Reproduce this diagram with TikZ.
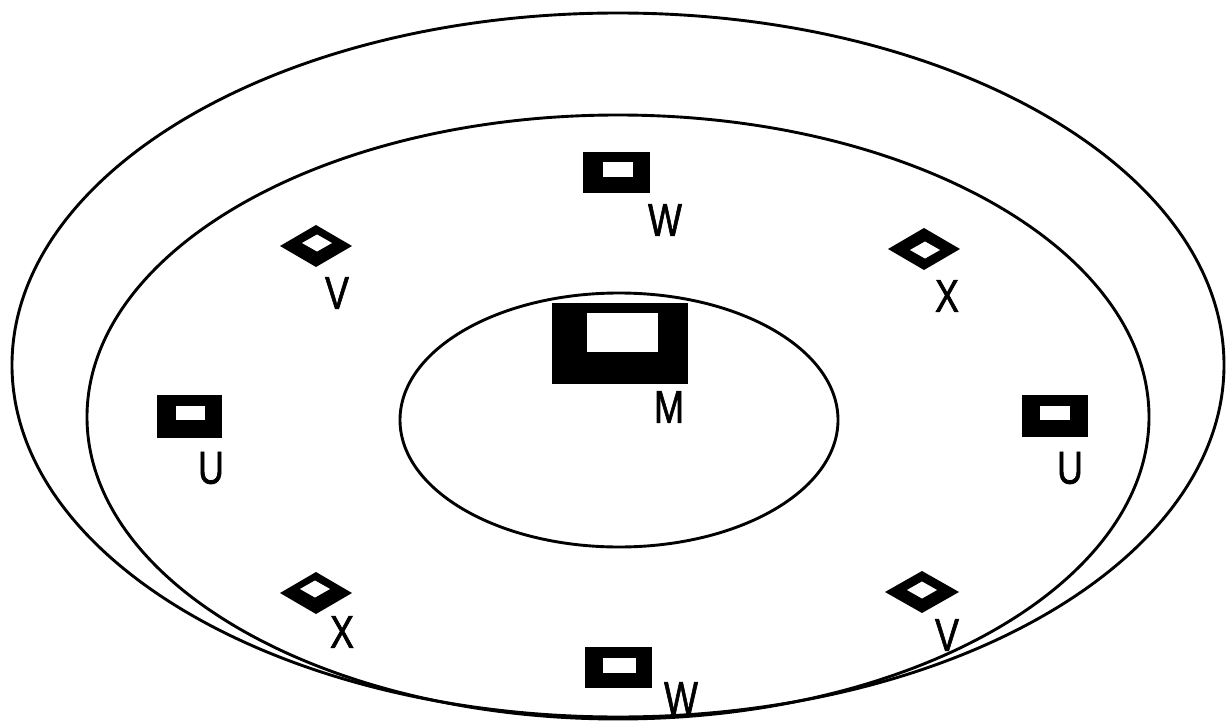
\documentclass[tikz,border=0pt]{standalone}
\usepackage{fontspec}
\setmainfont{Liberation Sans}
\newfontfamily\lblfont[FakeBold=1.6]{Liberation Sans}
\tikzset{
  ring/.style={draw=black, line width=2.9pt},
  blk/.style={fill=black},
  hole/.style={fill=white},
  lbl/.style={inner sep=0pt, font=\lblfont\fontsize{46}{46}\selectfont, xscale=0.78, transform shape}
}
\newcommand{\mybox}[8]{%
  \fill[blk] (#1,#2) rectangle (#3,#4);
  \fill[hole] (#5,#6) rectangle (#7,#8);}
\newcommand{\mydiam}[7]{% cx cy hw hh icx icy ihw
  \fill[blk] (#1-#3,#2) -- (#1,#2-#4) -- (#1+#3,#2) -- (#1,#2+#4) -- cycle;
  \fill[hole] (#5-#7,#6) -- (#5,#6-8.5) -- (#5+#7,#6) -- (#5,#6+8.5) -- cycle;}
\begin{document}
\begin{tikzpicture}[x=1pt,y=-1pt]
\useasboundingbox (0,0) rectangle (1226,722);
\fill[white] (0,0) rectangle (1226,722);
% rings
\draw[ring] (618,365) ellipse [x radius=606, y radius=352];
\draw[ring] (618,417) ellipse [x radius=531, y radius=302];
\draw[ring] (619,420) ellipse [x radius=219, y radius=127];
% boxes
\mybox{583}{152}{650}{193}{603}{162}{633}{177}
\mybox{552}{303}{688}{384}{587}{313}{658}{352}
\mybox{157}{395}{222}{438}{176}{406}{205}{420}
\mybox{1022}{395}{1088}{437}{1040}{406}{1070}{420}
\mybox{585}{647}{652}{688}{603}{658}{636}{673}
% diamonds
\mydiam{316}{246}{36}{21}{317}{243}{15}
\mydiam{924}{249}{36}{21}{925}{250}{15}
\mydiam{316}{593}{36}{21}{315}{589}{15}
\mydiam{922}{592}{37}{21}{922}{590}{15}
% labels
\node[lbl] (wtop) at (665,220) {W};
\node[lbl] (m) at (669,407) {M};
\node[lbl] (vtl) at (337,293) {V};
\node[lbl] (xtr) at (947,296) {X};
\node[lbl] (ul) at (211,468) {U};
\node[lbl] (ur) at (1070,468) {U};
\node[lbl] (xbl) at (342,632) {X};
\node[lbl] (vbr) at (947,635) {V};
\node[lbl] (wbot) at (681,698) {W};
\end{tikzpicture}
\end{document}
